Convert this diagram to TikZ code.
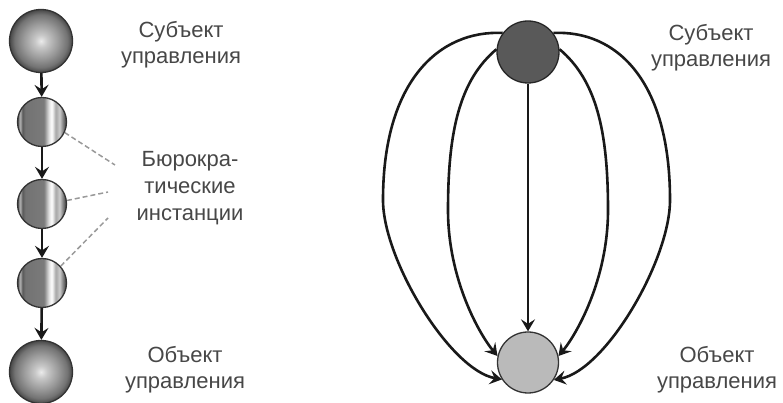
\documentclass[tikz,border=0pt]{standalone}
\usepackage{fontspec}
\setmainfont{Liberation Sans}
\usetikzlibrary{arrows.meta}
\pgfdeclareradialshading{myball}{\pgfpoint{0bp}{0bp}}{color(0bp)=(white!92!black); color(5bp)=(black!22); color(14bp)=(black!40); color(21bp)=(black!55); color(25bp)=(black!72); color(50bp)=(black!72)}
\pgfdeclarehorizontalshading{mystripe}{100bp}{color(0bp)=(black!75); color(25bp)=(black!75); color(27.5bp)=(black!25); color(30bp)=(black!65); color(33bp)=(black!55); color(52bp)=(black!52); color(57bp)=(black!12); color(60bp)=(white); color(64bp)=(black!35); color(68bp)=(black!20); color(72bp)=(black!55); color(75bp)=(black!75); color(100bp)=(black!75)}
\begin{document}
\begin{tikzpicture}[x=1pt,y=1pt,
  ball/.style={circle, draw=black!80, line width=1.3pt, minimum size=63pt, inner sep=0pt, shading=myball},
  inst/.style={circle, draw=black!80, line width=1.3pt, minimum size=49pt, inner sep=0pt, shading=mystripe},
  topc/.style={circle, draw=black!85, fill=black!65, line width=1.3pt, minimum size=62pt, inner sep=0pt},
  botc/.style={circle, draw=black!80, fill=black!27, line width=1.3pt, minimum size=61pt, inner sep=0pt},
  conn/.style={line width=2.6pt, draw=black!90, -{Stealth[length=12pt,width=14pt,inset=4.5pt]}},
  dashln/.style={draw=black!40, line width=1.5pt, dash pattern=on 5pt off 3pt},
  lbl/.style={font=\fontsize{22}{26}\selectfont, text=black!72, align=center, inner sep=0pt}
]
\useasboundingbox (0,0) rectangle (783,403);
% left column
\node[ball] (S) at (41,362) {};
\node[inst] (I1) at (42,281) {};
\node[inst] (I2) at (42,199) {};
\node[inst] (I3) at (42,120) {};
\node[ball] (O) at (41,31) {};
\draw[conn] (S) -- (I1);
\draw[conn] (I1) -- (I2);
\draw[conn] (I2) -- (I3);
\draw[conn] (I3) -- (O);
\coordinate (d1) at (115,238);
\coordinate (d2) at (108,211);
\coordinate (d3) at (108,185);
\draw[dashln] (I1.-25) -- (d1);
\draw[dashln] (I2.8) -- (d2);
\draw[dashln] (I3.42) -- (d3);
\node[lbl] (L1) at (181,358) {Субъект\\управления};
\node[lbl, font=\fontsize{22}{27}\selectfont] (L2) at (190,215) {Бюрокра-\\тические\\инстанции};
\node[lbl] (L3) at (185,33.5) {Объект\\управления};
% right diagram
\node[topc] (T) at (528,351) {};
\node[botc] (B) at (528,40.5) {};
\draw[conn] (T) -- (B);
\draw[conn] (T.143) .. controls (440,373) and (383,323) .. (383,203) .. controls (383,143) and (450,33) .. (B.213);
\draw[conn] (T.175) .. controls (460,323) and (448,273) .. (448,193) .. controls (448,123) and (480,68) .. (B.168);
\draw[conn] (T.5) .. controls (596,323) and (608,273) .. (608,193) .. controls (608,123) and (576,68) .. (B.12);
\draw[conn] (T.37) .. controls (616,373) and (670,323) .. (670,203) .. controls (670,143) and (606,33) .. (B.-34);
\node[lbl] (R1) at (711,355) {Субъект\\управления};
\node[lbl] (R2) at (717,33.5) {Объект\\управления};
\end{tikzpicture}
\end{document}
